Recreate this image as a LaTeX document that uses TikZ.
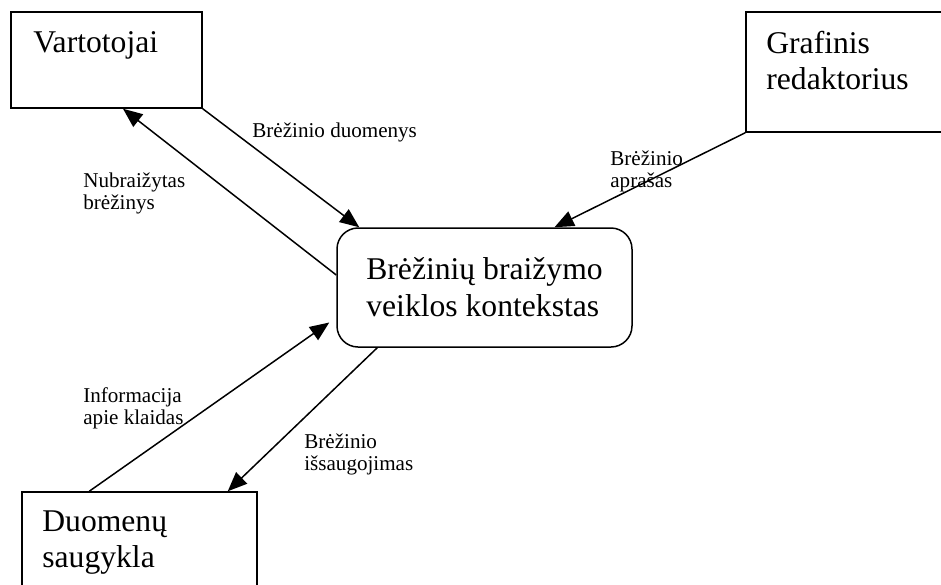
\documentclass[tikz,border=0pt]{standalone}
\usepackage{fontspec}
\setmainfont{Liberation Serif}
\usetikzlibrary{arrows.meta}

\begin{document}
\begin{tikzpicture}[
  bx/.style={draw,line width=0.85pt,inner sep=0pt},
  pr/.style={draw,line width=0.85pt,rounded corners=12pt,align=left,
             minimum width=5.9cm,minimum height=2.38cm,font=\fontsize{18}{21}\selectfont},
  tx/.style={inner sep=0pt,align=left,font=\fontsize{18}{20.5}\selectfont},
  fl/.style={-{Triangle[length=11pt,width=9pt]},line width=0.85pt},
  lb/.style={inner sep=0pt,align=left,anchor=north west,font=\fontsize{12}{12.5}\selectfont}]

\useasboundingbox (0,0) rectangle (18.82,-11.68);

\node[bx,minimum width=3.82cm,minimum height=1.92cm] (usr) at (2.13,-1.2)  {};
\node[bx,minimum width=4.28cm,minimum height=2.4cm]  (gr)  at (17.06,-1.44) {};
\node[bx,minimum width=4.7cm,minimum height=2.16cm]  (db)  at (2.79,-10.92) {};
\node[pr] (ctx) at (9.69,-5.75) {Brėžinių braižymo\\veiklos kontekstas};

\node[tx,anchor=base west]  (usrt) at (0.66,-1.04)  {Vartotojai};
\node[tx,anchor=north west] (grt)  at (15.32,-0.62) {Grafinis\\redaktorius};
\node[tx,anchor=north west] (dbt)  at (0.84,-10.21) {Duomenų\\saugykla};

\draw[fl] (usr.south east) -- ([xshift=0.46cm]ctx.north west);
\draw[fl] ([yshift=0.25cm]ctx.west) -- ([xshift=0.33cm]usr.south);
\draw[fl] (gr.south west) -- ([xshift=1.4cm]ctx.north);
\draw[fl] ([xshift=1.36cm]db.north west) -- ([xshift=-0.14cm,yshift=-0.7cm]ctx.west);
\draw[fl] ([xshift=0.82cm]ctx.south west) -- ([xshift=-0.6cm]db.north east);

\node[lb] (l1) at (5.04,-2.45) {Brėžinio duomenys};
\node[lb] (l2) at (1.66,-3.45) {Nubraižytas\\brėžinys};
\node[lb] (l3) at (12.2,-3.01) {Brėžinio\\aprašas};
\node[lb] (l4) at (1.66,-7.75) {Informacija\\apie klaidas};
\node[lb] (l5) at (6.08,-8.67) {Brėžinio\\išsaugojimas};
\end{tikzpicture}
\end{document}
